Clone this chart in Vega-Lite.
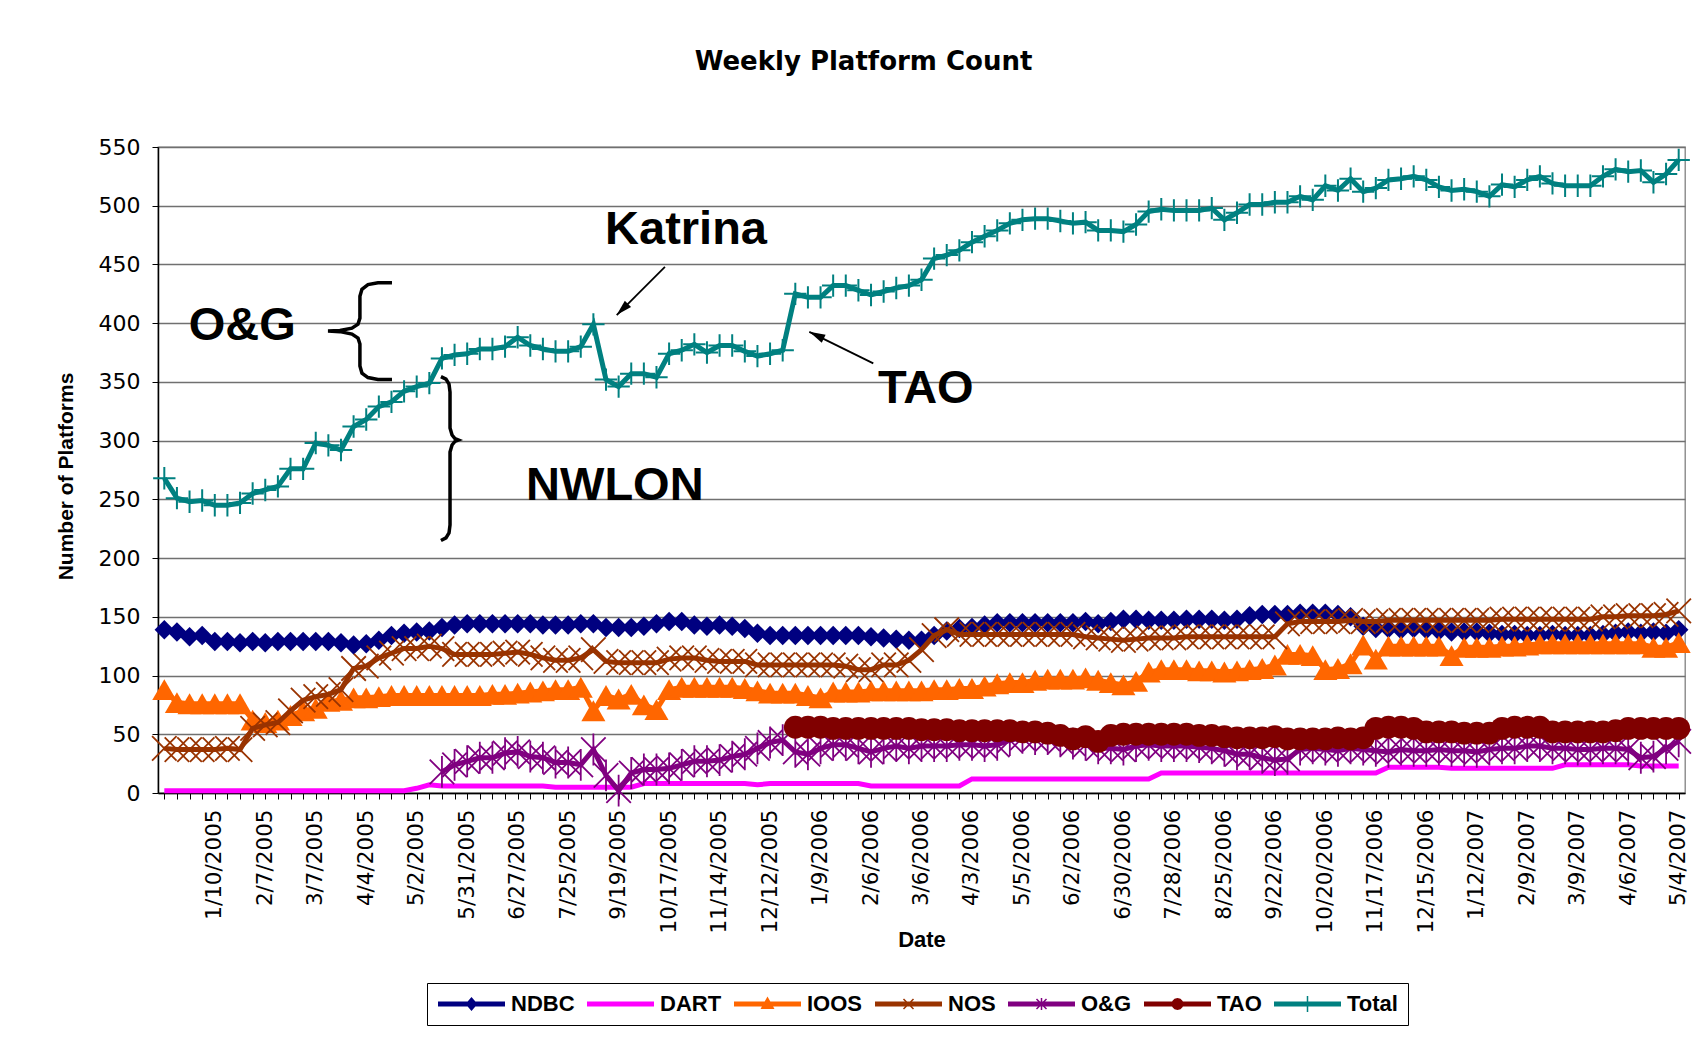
{
  "$schema": "https://vega.github.io/schema/vega-lite/v6.json",
  "width": 1527,
  "height": 646,
  "autosize": "none",
  "padding": {"left": 158, "top": 147, "right": 19, "bottom": 254},
  "background": "white",
  "title": {
    "text": "Weekly Platform Count",
    "font": "DejaVu Sans",
    "fontSize": 26,
    "fontWeight": "bold",
    "color": "black",
    "anchor": "middle",
    "frame": "group",
    "dx": -58,
    "offset": 40,
    "baseline": "alphabetic"
  },
  "config": {
    "view": {"stroke": "#808080", "strokeWidth": 1.3},
    "axis": {"labelColor": "black", "titleColor": "black", "domainColor": "black", "tickColor": "black"}
  },
  "data": {
    "values": [
      {"d":"12/13/2004","NDBC":139,"DART":2,"IOOS":88,"NOS":38,"OG":null,"TAO":null,"Total":268},
      {"d":"12/20/2004","NDBC":137,"DART":2,"IOOS":77,"NOS":37,"OG":null,"TAO":null,"Total":251},
      {"d":"12/27/2004","NDBC":133,"DART":2,"IOOS":76,"NOS":37,"OG":null,"TAO":null,"Total":248},
      {"d":"1/3/2005","NDBC":134,"DART":2,"IOOS":76,"NOS":37,"OG":null,"TAO":null,"Total":249},
      {"d":"1/10/2005","NDBC":129,"DART":2,"IOOS":76,"NOS":37,"OG":null,"TAO":null,"Total":245},
      {"d":"1/17/2005","NDBC":129,"DART":2,"IOOS":76,"NOS":38,"OG":null,"TAO":null,"Total":245},
      {"d":"1/24/2005","NDBC":128,"DART":2,"IOOS":76,"NOS":37,"OG":null,"TAO":null,"Total":247},
      {"d":"1/31/2005","NDBC":129,"DART":2,"IOOS":62,"NOS":55,"OG":null,"TAO":null,"Total":255},
      {"d":"2/7/2005","NDBC":128,"DART":2,"IOOS":60,"NOS":58,"OG":null,"TAO":null,"Total":258},
      {"d":"2/14/2005","NDBC":129,"DART":2,"IOOS":62,"NOS":60,"OG":null,"TAO":null,"Total":261},
      {"d":"2/21/2005","NDBC":129,"DART":2,"IOOS":66,"NOS":70,"OG":null,"TAO":null,"Total":276},
      {"d":"2/28/2005","NDBC":129,"DART":2,"IOOS":70,"NOS":79,"OG":null,"TAO":null,"Total":276},
      {"d":"3/7/2005","NDBC":129,"DART":2,"IOOS":72,"NOS":82,"OG":null,"TAO":null,"Total":298},
      {"d":"3/14/2005","NDBC":129,"DART":2,"IOOS":78,"NOS":84,"OG":null,"TAO":null,"Total":296},
      {"d":"3/21/2005","NDBC":128,"DART":2,"IOOS":79,"NOS":88,"OG":null,"TAO":null,"Total":292},
      {"d":"3/28/2005","NDBC":126,"DART":2,"IOOS":81,"NOS":106,"OG":null,"TAO":null,"Total":312},
      {"d":"4/4/2005","NDBC":127,"DART":2,"IOOS":81,"NOS":108,"OG":null,"TAO":null,"Total":318},
      {"d":"4/11/2005","NDBC":130,"DART":2,"IOOS":82,"NOS":115,"OG":null,"TAO":null,"Total":329},
      {"d":"4/18/2005","NDBC":134,"DART":2,"IOOS":83,"NOS":119,"OG":null,"TAO":null,"Total":333},
      {"d":"4/25/2005","NDBC":136,"DART":2,"IOOS":83,"NOS":123,"OG":null,"TAO":null,"Total":342},
      {"d":"5/2/2005","NDBC":137,"DART":4,"IOOS":83,"NOS":123,"OG":null,"TAO":null,"Total":346},
      {"d":"5/9/2005","NDBC":138,"DART":7,"IOOS":83,"NOS":125,"OG":null,"TAO":null,"Total":349},
      {"d":"5/16/2005","NDBC":141,"DART":6,"IOOS":83,"NOS":123,"OG":18,"TAO":null,"Total":370},
      {"d":"5/23/2005","NDBC":143,"DART":6,"IOOS":83,"NOS":118,"OG":24,"TAO":null,"Total":373},
      {"d":"5/31/2005","NDBC":144,"DART":6,"IOOS":83,"NOS":118,"OG":27,"TAO":null,"Total":374},
      {"d":"6/6/2005","NDBC":144,"DART":6,"IOOS":83,"NOS":118,"OG":30,"TAO":null,"Total":378},
      {"d":"6/13/2005","NDBC":144,"DART":6,"IOOS":84,"NOS":118,"OG":30,"TAO":null,"Total":378},
      {"d":"6/20/2005","NDBC":144,"DART":6,"IOOS":84,"NOS":119,"OG":34,"TAO":null,"Total":380},
      {"d":"6/27/2005","NDBC":144,"DART":6,"IOOS":85,"NOS":120,"OG":35,"TAO":null,"Total":388},
      {"d":"7/5/2005","NDBC":144,"DART":6,"IOOS":86,"NOS":118,"OG":31,"TAO":null,"Total":381},
      {"d":"7/11/2005","NDBC":143,"DART":6,"IOOS":87,"NOS":115,"OG":30,"TAO":null,"Total":378},
      {"d":"7/18/2005","NDBC":143,"DART":5,"IOOS":88,"NOS":113,"OG":26,"TAO":null,"Total":376},
      {"d":"7/25/2005","NDBC":143,"DART":5,"IOOS":88,"NOS":113,"OG":26,"TAO":null,"Total":376},
      {"d":"8/15/2005","NDBC":144,"DART":5,"IOOS":90,"NOS":115,"OG":24,"TAO":null,"Total":380},
      {"d":"8/29/2005","NDBC":144,"DART":5,"IOOS":70,"NOS":122,"OG":37,"TAO":null,"Total":399},
      {"d":"9/12/2005","NDBC":141,"DART":5,"IOOS":83,"NOS":112,"OG":15,"TAO":null,"Total":352},
      {"d":"9/19/2005","NDBC":141,"DART":5,"IOOS":80,"NOS":111,"OG":2,"TAO":null,"Total":346},
      {"d":"9/26/2005","NDBC":141,"DART":5,"IOOS":84,"NOS":111,"OG":17,"TAO":null,"Total":357},
      {"d":"10/3/2005","NDBC":142,"DART":8,"IOOS":75,"NOS":111,"OG":20,"TAO":null,"Total":357},
      {"d":"10/10/2005","NDBC":144,"DART":8,"IOOS":71,"NOS":111,"OG":20,"TAO":null,"Total":354},
      {"d":"10/17/2005","NDBC":146,"DART":8,"IOOS":88,"NOS":114,"OG":21,"TAO":null,"Total":374},
      {"d":"10/24/2005","NDBC":146,"DART":8,"IOOS":90,"NOS":115,"OG":24,"TAO":null,"Total":377},
      {"d":"10/31/2005","NDBC":143,"DART":8,"IOOS":90,"NOS":115,"OG":27,"TAO":null,"Total":382},
      {"d":"11/7/2005","NDBC":142,"DART":8,"IOOS":90,"NOS":113,"OG":27,"TAO":null,"Total":375},
      {"d":"11/14/2005","NDBC":143,"DART":8,"IOOS":90,"NOS":112,"OG":28,"TAO":null,"Total":381},
      {"d":"11/21/2005","NDBC":142,"DART":8,"IOOS":90,"NOS":112,"OG":31,"TAO":null,"Total":381},
      {"d":"11/28/2005","NDBC":140,"DART":8,"IOOS":89,"NOS":112,"OG":33,"TAO":null,"Total":376},
      {"d":"12/5/2005","NDBC":136,"DART":7,"IOOS":87,"NOS":109,"OG":38,"TAO":null,"Total":372},
      {"d":"12/12/2005","NDBC":134,"DART":8,"IOOS":85,"NOS":109,"OG":43,"TAO":null,"Total":374},
      {"d":"12/19/2005","NDBC":134,"DART":8,"IOOS":85,"NOS":109,"OG":45,"TAO":null,"Total":377},
      {"d":"12/27/2005","NDBC":134,"DART":8,"IOOS":85,"NOS":109,"OG":35,"TAO":56,"Total":425},
      {"d":"1/3/2006","NDBC":134,"DART":8,"IOOS":83,"NOS":109,"OG":33,"TAO":56,"Total":422},
      {"d":"1/9/2006","NDBC":134,"DART":8,"IOOS":81,"NOS":109,"OG":38,"TAO":56,"Total":422},
      {"d":"1/16/2006","NDBC":134,"DART":8,"IOOS":86,"NOS":109,"OG":41,"TAO":55,"Total":432},
      {"d":"1/23/2006","NDBC":134,"DART":8,"IOOS":86,"NOS":108,"OG":41,"TAO":55,"Total":432},
      {"d":"1/30/2006","NDBC":134,"DART":8,"IOOS":86,"NOS":105,"OG":38,"TAO":55,"Total":428},
      {"d":"2/6/2006","NDBC":133,"DART":6,"IOOS":87,"NOS":105,"OG":35,"TAO":55,"Total":424},
      {"d":"2/13/2006","NDBC":132,"DART":6,"IOOS":87,"NOS":109,"OG":38,"TAO":55,"Total":427},
      {"d":"2/21/2006","NDBC":131,"DART":6,"IOOS":87,"NOS":109,"OG":40,"TAO":55,"Total":430},
      {"d":"2/27/2006","NDBC":130,"DART":6,"IOOS":87,"NOS":113,"OG":38,"TAO":55,"Total":432},
      {"d":"3/6/2006","NDBC":130,"DART":6,"IOOS":87,"NOS":122,"OG":40,"TAO":54,"Total":437},
      {"d":"3/13/2006","NDBC":134,"DART":6,"IOOS":88,"NOS":134,"OG":40,"TAO":54,"Total":455},
      {"d":"3/20/2006","NDBC":138,"DART":6,"IOOS":88,"NOS":139,"OG":40,"TAO":54,"Total":458},
      {"d":"3/27/2006","NDBC":140,"DART":6,"IOOS":89,"NOS":135,"OG":41,"TAO":53,"Total":462},
      {"d":"4/3/2006","NDBC":141,"DART":12,"IOOS":89,"NOS":135,"OG":41,"TAO":53,"Total":469},
      {"d":"4/10/2006","NDBC":143,"DART":12,"IOOS":91,"NOS":135,"OG":40,"TAO":53,"Total":474},
      {"d":"4/17/2006","NDBC":145,"DART":12,"IOOS":93,"NOS":135,"OG":41,"TAO":53,"Total":479},
      {"d":"4/24/2006","NDBC":145,"DART":12,"IOOS":94,"NOS":135,"OG":45,"TAO":53,"Total":485},
      {"d":"5/5/2006","NDBC":145,"DART":12,"IOOS":94,"NOS":135,"OG":47,"TAO":52,"Total":488},
      {"d":"5/12/2006","NDBC":145,"DART":12,"IOOS":96,"NOS":135,"OG":46,"TAO":52,"Total":489},
      {"d":"5/19/2006","NDBC":145,"DART":12,"IOOS":97,"NOS":135,"OG":46,"TAO":51,"Total":489},
      {"d":"5/26/2006","NDBC":145,"DART":12,"IOOS":97,"NOS":135,"OG":44,"TAO":49,"Total":487},
      {"d":"6/2/2006","NDBC":145,"DART":12,"IOOS":97,"NOS":135,"OG":42,"TAO":46,"Total":485},
      {"d":"6/9/2006","NDBC":146,"DART":12,"IOOS":98,"NOS":133,"OG":41,"TAO":48,"Total":486},
      {"d":"6/16/2006","NDBC":144,"DART":12,"IOOS":96,"NOS":132,"OG":38,"TAO":44,"Total":479},
      {"d":"6/23/2006","NDBC":146,"DART":12,"IOOS":94,"NOS":131,"OG":38,"TAO":49,"Total":479},
      {"d":"6/30/2006","NDBC":148,"DART":12,"IOOS":92,"NOS":130,"OG":37,"TAO":50,"Total":478},
      {"d":"7/7/2006","NDBC":148,"DART":12,"IOOS":95,"NOS":131,"OG":40,"TAO":50,"Total":484},
      {"d":"7/14/2006","NDBC":147,"DART":12,"IOOS":103,"NOS":132,"OG":41,"TAO":50,"Total":495},
      {"d":"7/21/2006","NDBC":147,"DART":17,"IOOS":105,"NOS":132,"OG":40,"TAO":50,"Total":497},
      {"d":"7/28/2006","NDBC":147,"DART":17,"IOOS":105,"NOS":132,"OG":40,"TAO":50,"Total":496},
      {"d":"8/4/2006","NDBC":148,"DART":17,"IOOS":105,"NOS":133,"OG":40,"TAO":50,"Total":496},
      {"d":"8/11/2006","NDBC":148,"DART":17,"IOOS":104,"NOS":133,"OG":39,"TAO":49,"Total":496},
      {"d":"8/18/2006","NDBC":148,"DART":17,"IOOS":104,"NOS":133,"OG":38,"TAO":49,"Total":498},
      {"d":"8/25/2006","NDBC":147,"DART":17,"IOOS":103,"NOS":133,"OG":36,"TAO":48,"Total":488},
      {"d":"9/1/2006","NDBC":148,"DART":17,"IOOS":104,"NOS":133,"OG":33,"TAO":47,"Total":494},
      {"d":"9/8/2006","NDBC":151,"DART":17,"IOOS":105,"NOS":133,"OG":33,"TAO":47,"Total":501},
      {"d":"9/15/2006","NDBC":152,"DART":17,"IOOS":106,"NOS":133,"OG":30,"TAO":47,"Total":501},
      {"d":"9/22/2006","NDBC":152,"DART":17,"IOOS":109,"NOS":133,"OG":28,"TAO":48,"Total":503},
      {"d":"9/29/2006","NDBC":152,"DART":17,"IOOS":118,"NOS":144,"OG":29,"TAO":46,"Total":503},
      {"d":"10/6/2006","NDBC":153,"DART":17,"IOOS":118,"NOS":146,"OG":37,"TAO":46,"Total":508},
      {"d":"10/13/2006","NDBC":153,"DART":17,"IOOS":117,"NOS":146,"OG":38,"TAO":46,"Total":505},
      {"d":"10/20/2006","NDBC":153,"DART":17,"IOOS":105,"NOS":146,"OG":37,"TAO":46,"Total":517},
      {"d":"10/27/2006","NDBC":152,"DART":17,"IOOS":106,"NOS":146,"OG":36,"TAO":47,"Total":513},
      {"d":"11/3/2006","NDBC":150,"DART":17,"IOOS":110,"NOS":147,"OG":38,"TAO":46,"Total":523},
      {"d":"11/10/2006","NDBC":142,"DART":17,"IOOS":126,"NOS":146,"OG":37,"TAO":47,"Total":512},
      {"d":"11/17/2006","NDBC":140,"DART":17,"IOOS":114,"NOS":146,"OG":36,"TAO":55,"Total":515},
      {"d":"11/24/2006","NDBC":140,"DART":22,"IOOS":125,"NOS":147,"OG":35,"TAO":56,"Total":522},
      {"d":"12/1/2006","NDBC":139,"DART":22,"IOOS":125,"NOS":147,"OG":37,"TAO":56,"Total":523},
      {"d":"12/8/2006","NDBC":140,"DART":22,"IOOS":125,"NOS":147,"OG":36,"TAO":55,"Total":525},
      {"d":"12/15/2006","NDBC":139,"DART":22,"IOOS":125,"NOS":147,"OG":36,"TAO":52,"Total":522},
      {"d":"12/22/2006","NDBC":138,"DART":22,"IOOS":125,"NOS":147,"OG":37,"TAO":52,"Total":516},
      {"d":"12/29/2006","NDBC":137,"DART":21,"IOOS":117,"NOS":147,"OG":36,"TAO":52,"Total":513},
      {"d":"1/5/2007","NDBC":137,"DART":21,"IOOS":124,"NOS":147,"OG":36,"TAO":51,"Total":514},
      {"d":"1/12/2007","NDBC":137,"DART":21,"IOOS":124,"NOS":147,"OG":35,"TAO":51,"Total":512},
      {"d":"1/19/2007","NDBC":136,"DART":21,"IOOS":124,"NOS":147,"OG":37,"TAO":51,"Total":508},
      {"d":"1/26/2007","NDBC":135,"DART":21,"IOOS":125,"NOS":148,"OG":38,"TAO":55,"Total":518},
      {"d":"2/2/2007","NDBC":135,"DART":21,"IOOS":125,"NOS":148,"OG":38,"TAO":56,"Total":516},
      {"d":"2/9/2007","NDBC":134,"DART":21,"IOOS":126,"NOS":148,"OG":40,"TAO":56,"Total":522},
      {"d":"2/16/2007","NDBC":134,"DART":21,"IOOS":127,"NOS":148,"OG":40,"TAO":56,"Total":525},
      {"d":"2/23/2007","NDBC":135,"DART":21,"IOOS":127,"NOS":148,"OG":38,"TAO":52,"Total":519},
      {"d":"3/2/2007","NDBC":134,"DART":24,"IOOS":127,"NOS":148,"OG":38,"TAO":52,"Total":517},
      {"d":"3/9/2007","NDBC":134,"DART":24,"IOOS":127,"NOS":148,"OG":37,"TAO":52,"Total":517},
      {"d":"3/16/2007","NDBC":134,"DART":24,"IOOS":127,"NOS":148,"OG":37,"TAO":52,"Total":517},
      {"d":"3/23/2007","NDBC":135,"DART":24,"IOOS":127,"NOS":150,"OG":38,"TAO":52,"Total":525},
      {"d":"3/30/2007","NDBC":136,"DART":24,"IOOS":127,"NOS":150,"OG":38,"TAO":53,"Total":531},
      {"d":"4/6/2007","NDBC":137,"DART":24,"IOOS":127,"NOS":151,"OG":37,"TAO":55,"Total":529},
      {"d":"4/13/2007","NDBC":136,"DART":23,"IOOS":127,"NOS":151,"OG":30,"TAO":55,"Total":530},
      {"d":"4/20/2007","NDBC":137,"DART":23,"IOOS":124,"NOS":151,"OG":31,"TAO":55,"Total":520},
      {"d":"4/27/2007","NDBC":136,"DART":23,"IOOS":124,"NOS":152,"OG":38,"TAO":55,"Total":527},
      {"d":"5/4/2007","NDBC":139,"DART":23,"IOOS":128,"NOS":155,"OG":44,"TAO":55,"Total":539}
    ]
  },
  "resolve": {"scale": {"x": "independent", "y": "independent"}},
  "layer": [
    {
      "encoding": {
        "x": {
          "field": "d",
          "type": "ordinal",
          "scale": {
            "type": "point",
            "padding": 0.5,
            "domain": ["12/13/2004","12/20/2004","12/27/2004","1/3/2005","1/10/2005","1/17/2005","1/24/2005","1/31/2005","2/7/2005","2/14/2005","2/21/2005","2/28/2005","3/7/2005","3/14/2005","3/21/2005","3/28/2005","4/4/2005","4/11/2005","4/18/2005","4/25/2005","5/2/2005","5/9/2005","5/16/2005","5/23/2005","5/31/2005","6/6/2005","6/13/2005","6/20/2005","6/27/2005","7/5/2005","7/11/2005","7/18/2005","7/25/2005","8/15/2005","8/29/2005","9/12/2005","9/19/2005","9/26/2005","10/3/2005","10/10/2005","10/17/2005","10/24/2005","10/31/2005","11/7/2005","11/14/2005","11/21/2005","11/28/2005","12/5/2005","12/12/2005","12/19/2005","12/27/2005","1/3/2006","1/9/2006","1/16/2006","1/23/2006","1/30/2006","2/6/2006","2/13/2006","2/21/2006","2/27/2006","3/6/2006","3/13/2006","3/20/2006","3/27/2006","4/3/2006","4/10/2006","4/17/2006","4/24/2006","5/5/2006","5/12/2006","5/19/2006","5/26/2006","6/2/2006","6/9/2006","6/16/2006","6/23/2006","6/30/2006","7/7/2006","7/14/2006","7/21/2006","7/28/2006","8/4/2006","8/11/2006","8/18/2006","8/25/2006","9/1/2006","9/8/2006","9/15/2006","9/22/2006","9/29/2006","10/6/2006","10/13/2006","10/20/2006","10/27/2006","11/3/2006","11/10/2006","11/17/2006","11/24/2006","12/1/2006","12/8/2006","12/15/2006","12/22/2006","12/29/2006","1/5/2007","1/12/2007","1/19/2007","1/26/2007","2/2/2007","2/9/2007","2/16/2007","2/23/2007","3/2/2007","3/9/2007","3/16/2007","3/23/2007","3/30/2007","4/6/2007","4/13/2007","4/20/2007","4/27/2007","5/4/2007"]
          },
          "axis": {
            "title": "Date",
            "labelAngle": -90,
            "labelExpr": "datum.index > 0 && round(datum.index * 120) % 4 == 0 ? datum.label : ''",
            "labelOverlap": false,
            "labelBound": false,
            "labelFont": "DejaVu Sans",
            "labelFontSize": 21.5,
            "labelPadding": 10,
            "tickSize": 6,
            "tickWidth": 1,
            "domainWidth": 1.5,
            "grid": false,
            "titleFont": "Liberation Sans",
            "titleFontSize": 22,
            "titleFontWeight": "bold",
            "titleY": 153,
            "titleBaseline": "alphabetic"
          }
        }
      },
      "layer": [
        {
          "mark": {"type": "line", "color": "#000080", "strokeWidth": 5},
          "encoding": {
            "y": {"field": "NDBC", "type": "quantitative", "scale": {"domain": [0, 550], "nice": false},
              "axis": {"title": "Number of Platforms", "values": [0,50,100,150,200,250,300,350,400,450,500,550], "grid": true, "gridColor": "#707070", "gridWidth": 1.3, "tickSize": 6, "labelPadding": 12, "domainWidth": 1.5, "labelFont": "DejaVu Sans", "labelFontSize": 22, "titleFont": "Liberation Sans", "titleFontSize": 21, "titleFontWeight": "bold", "titleAngle": -90, "titleX": -86, "titleY": 329, "titleAlign": "center", "titleBaseline": "alphabetic"}},
            "order": {"value": null}
          }
        },
        {
          "mark": {"type": "point", "shape": "diamond", "filled": true, "size": 380, "color": "#000080", "opacity": 1},
          "encoding": {"y": {"field": "NDBC", "type": "quantitative", "scale": {"domain": [0, 550], "nice": false},
            "axis": {"title": "Number of Platforms", "values": [0,50,100,150,200,250,300,350,400,450,500,550], "grid": true, "gridColor": "#707070", "gridWidth": 1.3, "tickSize": 6, "labelPadding": 12, "domainWidth": 1.5, "labelFont": "DejaVu Sans", "labelFontSize": 22, "titleFont": "Liberation Sans", "titleFontSize": 21, "titleFontWeight": "bold", "titleAngle": -90, "titleX": -86, "titleY": 329, "titleAlign": "center", "titleBaseline": "alphabetic"}}}
        },
        {
          "mark": {"type": "line", "color": "#FF00FF", "strokeWidth": 5},
          "encoding": {"y": {"field": "DART", "type": "quantitative", "scale": {"domain": [0, 550], "nice": false},
            "axis": {"title": "Number of Platforms", "values": [0,50,100,150,200,250,300,350,400,450,500,550], "grid": true, "gridColor": "#707070", "gridWidth": 1.3, "tickSize": 6, "labelPadding": 12, "domainWidth": 1.5, "labelFont": "DejaVu Sans", "labelFontSize": 22, "titleFont": "Liberation Sans", "titleFontSize": 21, "titleFontWeight": "bold", "titleAngle": -90, "titleX": -86, "titleY": 329, "titleAlign": "center", "titleBaseline": "alphabetic"}}, "order": {"value": null}}
        },
        {
          "mark": {"type": "line", "color": "#FF6600", "strokeWidth": 5},
          "encoding": {"y": {"field": "IOOS", "type": "quantitative", "scale": {"domain": [0, 550], "nice": false},
            "axis": {"title": "Number of Platforms", "values": [0,50,100,150,200,250,300,350,400,450,500,550], "grid": true, "gridColor": "#707070", "gridWidth": 1.3, "tickSize": 6, "labelPadding": 12, "domainWidth": 1.5, "labelFont": "DejaVu Sans", "labelFontSize": 22, "titleFont": "Liberation Sans", "titleFontSize": 21, "titleFontWeight": "bold", "titleAngle": -90, "titleX": -86, "titleY": 329, "titleAlign": "center", "titleBaseline": "alphabetic"}}, "order": {"value": null}}
        },
        {
          "mark": {"type": "point", "shape": "triangle-up", "filled": true, "size": 580, "color": "#FF6600", "opacity": 1},
          "encoding": {"y": {"field": "IOOS", "type": "quantitative", "scale": {"domain": [0, 550], "nice": false},
            "axis": {"title": "Number of Platforms", "values": [0,50,100,150,200,250,300,350,400,450,500,550], "grid": true, "gridColor": "#707070", "gridWidth": 1.3, "tickSize": 6, "labelPadding": 12, "domainWidth": 1.5, "labelFont": "DejaVu Sans", "labelFontSize": 22, "titleFont": "Liberation Sans", "titleFontSize": 21, "titleFontWeight": "bold", "titleAngle": -90, "titleX": -86, "titleY": 329, "titleAlign": "center", "titleBaseline": "alphabetic"}}}
        },
        {
          "mark": {"type": "line", "color": "#993300", "strokeWidth": 5},
          "encoding": {"y": {"field": "NOS", "type": "quantitative", "scale": {"domain": [0, 550], "nice": false},
            "axis": {"title": "Number of Platforms", "values": [0,50,100,150,200,250,300,350,400,450,500,550], "grid": true, "gridColor": "#707070", "gridWidth": 1.3, "tickSize": 6, "labelPadding": 12, "domainWidth": 1.5, "labelFont": "DejaVu Sans", "labelFontSize": 22, "titleFont": "Liberation Sans", "titleFontSize": 21, "titleFontWeight": "bold", "titleAngle": -90, "titleX": -86, "titleY": 329, "titleAlign": "center", "titleBaseline": "alphabetic"}}, "order": {"value": null}}
        },
        {
          "mark": {"type": "point", "shape": "M-1,-1L1,1M-1,1L1,-1", "filled": false, "size": 600, "strokeWidth": 1.8, "color": "#993300", "opacity": 1},
          "encoding": {"y": {"field": "NOS", "type": "quantitative", "scale": {"domain": [0, 550], "nice": false},
            "axis": {"title": "Number of Platforms", "values": [0,50,100,150,200,250,300,350,400,450,500,550], "grid": true, "gridColor": "#707070", "gridWidth": 1.3, "tickSize": 6, "labelPadding": 12, "domainWidth": 1.5, "labelFont": "DejaVu Sans", "labelFontSize": 22, "titleFont": "Liberation Sans", "titleFontSize": 21, "titleFontWeight": "bold", "titleAngle": -90, "titleX": -86, "titleY": 329, "titleAlign": "center", "titleBaseline": "alphabetic"}}}
        },
        {
          "mark": {"type": "line", "color": "#800080", "strokeWidth": 5},
          "encoding": {"y": {"field": "OG", "type": "quantitative", "scale": {"domain": [0, 550], "nice": false},
            "axis": {"title": "Number of Platforms", "values": [0,50,100,150,200,250,300,350,400,450,500,550], "grid": true, "gridColor": "#707070", "gridWidth": 1.3, "tickSize": 6, "labelPadding": 12, "domainWidth": 1.5, "labelFont": "DejaVu Sans", "labelFontSize": 22, "titleFont": "Liberation Sans", "titleFontSize": 21, "titleFontWeight": "bold", "titleAngle": -90, "titleX": -86, "titleY": 329, "titleAlign": "center", "titleBaseline": "alphabetic"}}, "order": {"value": null}}
        },
        {
          "mark": {"type": "point", "shape": "M-1,-1L1,1M-1,1L1,-1M0,-1.3L0,1.3", "filled": false, "size": 600, "strokeWidth": 1.8, "color": "#800080", "opacity": 1},
          "encoding": {"y": {"field": "OG", "type": "quantitative", "scale": {"domain": [0, 550], "nice": false},
            "axis": {"title": "Number of Platforms", "values": [0,50,100,150,200,250,300,350,400,450,500,550], "grid": true, "gridColor": "#707070", "gridWidth": 1.3, "tickSize": 6, "labelPadding": 12, "domainWidth": 1.5, "labelFont": "DejaVu Sans", "labelFontSize": 22, "titleFont": "Liberation Sans", "titleFontSize": 21, "titleFontWeight": "bold", "titleAngle": -90, "titleX": -86, "titleY": 329, "titleAlign": "center", "titleBaseline": "alphabetic"}}}
        },
        {
          "mark": {"type": "line", "color": "#800000", "strokeWidth": 5},
          "encoding": {"y": {"field": "TAO", "type": "quantitative", "scale": {"domain": [0, 550], "nice": false},
            "axis": {"title": "Number of Platforms", "values": [0,50,100,150,200,250,300,350,400,450,500,550], "grid": true, "gridColor": "#707070", "gridWidth": 1.3, "tickSize": 6, "labelPadding": 12, "domainWidth": 1.5, "labelFont": "DejaVu Sans", "labelFontSize": 22, "titleFont": "Liberation Sans", "titleFontSize": 21, "titleFontWeight": "bold", "titleAngle": -90, "titleX": -86, "titleY": 329, "titleAlign": "center", "titleBaseline": "alphabetic"}}, "order": {"value": null}}
        },
        {
          "mark": {"type": "point", "shape": "circle", "filled": true, "size": 520, "color": "#800000", "opacity": 1},
          "encoding": {"y": {"field": "TAO", "type": "quantitative", "scale": {"domain": [0, 550], "nice": false},
            "axis": {"title": "Number of Platforms", "values": [0,50,100,150,200,250,300,350,400,450,500,550], "grid": true, "gridColor": "#707070", "gridWidth": 1.3, "tickSize": 6, "labelPadding": 12, "domainWidth": 1.5, "labelFont": "DejaVu Sans", "labelFontSize": 22, "titleFont": "Liberation Sans", "titleFontSize": 21, "titleFontWeight": "bold", "titleAngle": -90, "titleX": -86, "titleY": 329, "titleAlign": "center", "titleBaseline": "alphabetic"}}}
        },
        {
          "mark": {"type": "line", "color": "#008080", "strokeWidth": 5},
          "encoding": {"y": {"field": "Total", "type": "quantitative", "scale": {"domain": [0, 550], "nice": false},
            "axis": {"title": "Number of Platforms", "values": [0,50,100,150,200,250,300,350,400,450,500,550], "grid": true, "gridColor": "#707070", "gridWidth": 1.3, "tickSize": 6, "labelPadding": 12, "domainWidth": 1.5, "labelFont": "DejaVu Sans", "labelFontSize": 22, "titleFont": "Liberation Sans", "titleFontSize": 21, "titleFontWeight": "bold", "titleAngle": -90, "titleX": -86, "titleY": 329, "titleAlign": "center", "titleBaseline": "alphabetic"}}, "order": {"value": null}}
        },
        {
          "mark": {"type": "point", "shape": "M-1,0L1,0M0,-1L0,1", "filled": false, "size": 500, "strokeWidth": 2, "color": "#008080", "opacity": 1},
          "encoding": {"y": {"field": "Total", "type": "quantitative", "scale": {"domain": [0, 550], "nice": false},
            "axis": {"title": "Number of Platforms", "values": [0,50,100,150,200,250,300,350,400,450,500,550], "grid": true, "gridColor": "#707070", "gridWidth": 1.3, "tickSize": 6, "labelPadding": 12, "domainWidth": 1.5, "labelFont": "DejaVu Sans", "labelFontSize": 22, "titleFont": "Liberation Sans", "titleFontSize": 21, "titleFontWeight": "bold", "titleAngle": -90, "titleX": -86, "titleY": 329, "titleAlign": "center", "titleBaseline": "alphabetic"}}}
        }
      ]
    },
    {
      "layer": [
        {
          "data": {"values": [
            {"b":"g","k":1,"u":18.54,"v":434.5},{"b":"g","k":2,"u":17.43,"v":434.5},{"b":"g","k":3,"u":16.64,"v":432.8},
            {"b":"g","k":4,"u":16.16,"v":428.9},{"b":"g","k":5,"u":16.0,"v":423.0},{"b":"g","k":6,"u":16.0,"v":404.3},
            {"b":"g","k":7,"u":15.85,"v":399.2},{"b":"g","k":8,"u":15.37,"v":395.8},{"b":"g","k":9,"u":14.42,"v":393.7},
            {"b":"g","k":10,"u":13.47,"v":393.3},{"b":"g","k":11,"u":14.42,"v":392.8},{"b":"g","k":12,"u":15.37,"v":390.7},
            {"b":"g","k":13,"u":15.85,"v":387.3},{"b":"g","k":14,"u":16.0,"v":382.2},{"b":"g","k":15,"u":16.0,"v":363.5},
            {"b":"g","k":16,"u":16.16,"v":357.5},{"b":"g","k":17,"u":16.64,"v":353.7},{"b":"g","k":18,"u":17.43,"v":352.0},
            {"b":"g","k":19,"u":18.54,"v":352.0},
            {"b":"n","k":1,"u":22.42,"v":354.5},{"b":"n","k":2,"u":22.82,"v":352.4},{"b":"n","k":3,"u":23.06,"v":348.1},
            {"b":"n","k":4,"u":23.14,"v":341.3},{"b":"n","k":5,"u":23.14,"v":310.7},{"b":"n","k":6,"u":23.3,"v":304.8},
            {"b":"n","k":7,"u":23.53,"v":301.8},{"b":"n","k":8,"u":23.81,"v":300.5},{"b":"n","k":9,"u":23.53,"v":299.3},
            {"b":"n","k":10,"u":23.3,"v":296.3},{"b":"n","k":11,"u":23.14,"v":290.3},{"b":"n","k":12,"u":23.14,"v":228.2},
            {"b":"n","k":13,"u":23.06,"v":221.4},{"b":"n","k":14,"u":22.82,"v":217.2},{"b":"n","k":15,"u":22.42,"v":215.0}
          ]},
          "mark": {"type": "line", "color": "black", "strokeWidth": 3.5},
          "encoding": {
            "x": {"field": "u", "type": "quantitative", "scale": {"domain": [0, 121], "nice": false, "zero": false}, "axis": null},
            "y": {"field": "v", "type": "quantitative", "scale": {"domain": [0, 550], "nice": false}, "axis": null},
            "detail": {"field": "b"},
            "order": {"field": "k", "type": "quantitative"}
          }
        },
        {
          "data": {"values": [
            {"u": 40.17, "v": 447.9, "u2": 36.35, "v2": 406.9},
            {"u": 56.68, "v": 365.8, "u2": 51.61, "v2": 392.6}
          ]},
          "mark": {"type": "rule", "color": "black", "strokeWidth": 1.8},
          "encoding": {
            "x": {"field": "u", "type": "quantitative", "scale": {"domain": [0, 121], "nice": false, "zero": false}, "axis": null},
            "y": {"field": "v", "type": "quantitative", "scale": {"domain": [0, 550], "nice": false}, "axis": null},
            "x2": {"field": "u2"},
            "y2": {"field": "v2"}
          }
        },
        {
          "data": {"values": [{"u": 36.79, "v": 411.7}]},
          "mark": {"type": "point", "shape": "M0,-1L0.55,1L-0.55,1Z", "filled": true, "size": 256, "angle": 225, "color": "black", "opacity": 1},
          "encoding": {
            "x": {"field": "u", "type": "quantitative", "scale": {"domain": [0, 121], "nice": false, "zero": false}, "axis": null},
            "y": {"field": "v", "type": "quantitative", "scale": {"domain": [0, 550], "nice": false}, "axis": null}
          }
        },
        {
          "data": {"values": [{"u": 52.18, "v": 389.7}]},
          "mark": {"type": "point", "shape": "M0,-1L0.55,1L-0.55,1Z", "filled": true, "size": 256, "angle": 296, "color": "black", "opacity": 1},
          "encoding": {
            "x": {"field": "u", "type": "quantitative", "scale": {"domain": [0, 121], "nice": false, "zero": false}, "axis": null},
            "y": {"field": "v", "type": "quantitative", "scale": {"domain": [0, 550], "nice": false}, "axis": null}
          }
        },
        {
          "data": {"values": [
            {"t": "Katrina", "u": 41.84, "v": 467},
            {"t": "O&G", "u": 6.67, "v": 386},
            {"t": "TAO", "u": 60.84, "v": 332},
            {"t": "NWLON", "u": 36.2, "v": 249.5}
          ]},
          "mark": {"type": "text", "font": "Liberation Sans", "fontSize": 47, "fontWeight": "bold", "color": "black", "align": "center", "baseline": "alphabetic"},
          "encoding": {
            "x": {"field": "u", "type": "quantitative", "scale": {"domain": [0, 121], "nice": false, "zero": false}, "axis": null},
            "y": {"field": "v", "type": "quantitative", "scale": {"domain": [0, 550], "nice": false}, "axis": null},
            "text": {"field": "t"}
          }
        },
        {
          "data": {"values": [
            {"s": "NDBC"}, {"s": "DART"}, {"s": "IOOS"}, {"s": "NOS"}, {"s": "O&G"}, {"s": "TAO"}, {"s": "Total"}
          ]},
          "mark": {"type": "point", "filled": true, "opacity": 0},
          "encoding": {
            "color": {
              "field": "s", "type": "nominal",
              "scale": {"domain": ["NDBC","DART","IOOS","NOS","O&G","TAO","Total"], "range": ["#000080","#FF00FF","#FF6600","#993300","#800080","#800000","#008080"]},
              "legend": {
                "title": null, "orient": "none", "legendX": 269, "legendY": 836, "direction": "horizontal",
                "symbolSize": 400, "symbolStrokeWidth": 0, "symbolOpacity": 1,
                "labelFont": "Liberation Sans", "labelFontSize": 22, "labelFontWeight": "bold", "labelColor": "black",
                "labelOffset": 52, "columnPadding": 11, "padding": 10, "strokeColor": "black"
              }
            },
            "shape": {
              "field": "s", "type": "nominal",
              "scale": {
                "domain": ["NDBC","DART","IOOS","NOS","O&G","TAO","Total"],
                "range": [
                  "M-1,-0.25L5.7,-0.25L5.7,0.25L-1,0.25Z M2.35,-0.7L2.95,0L2.35,0.7L1.75,0Z",
                  "M-1,-0.25L5.7,-0.25L5.7,0.25L-1,0.25Z",
                  "M-1,-0.25L5.7,-0.25L5.7,0.25L-1,0.25Z M2.35,-0.75L3.05,0.5L1.65,0.5Z",
                  "M-1,-0.25L5.7,-0.25L5.7,0.25L-1,0.25Z M1.903,-0.553L2.903,0.447L2.797,0.553L1.797,-0.447Z M1.903,0.553L1.797,0.447L2.797,-0.553L2.903,-0.447Z",
                  "M-1,-0.25L5.7,-0.25L5.7,0.25L-1,0.25Z M1.903,-0.553L2.903,0.447L2.797,0.553L1.797,-0.447Z M1.903,0.553L1.797,0.447L2.797,-0.553L2.903,-0.447Z M2.275,-0.6L2.425,-0.6L2.425,0.6L2.275,0.6Z",
                  "M-1,-0.25L5.7,-0.25L5.7,0.25L-1,0.25Z M2.95,0L2.87,0.3L2.65,0.52L2.35,0.6L2.05,0.52L1.83,0.3L1.75,0L1.83,-0.3L2.05,-0.52L2.35,-0.6L2.65,-0.52L2.87,-0.3Z",
                  "M-1,-0.25L5.7,-0.25L5.7,0.25L-1,0.25Z M2.275,-0.8L2.425,-0.8L2.425,0.8L2.275,0.8Z"
                ]
              },
              "legend": {
                "title": null, "orient": "none", "legendX": 269, "legendY": 836, "direction": "horizontal",
                "symbolSize": 400, "symbolStrokeWidth": 0, "symbolOpacity": 1,
                "labelFont": "Liberation Sans", "labelFontSize": 22, "labelFontWeight": "bold", "labelColor": "black",
                "labelOffset": 52, "columnPadding": 11, "padding": 10, "strokeColor": "black"
              }
            }
          }
        }
      ]
    }
  ]
}
